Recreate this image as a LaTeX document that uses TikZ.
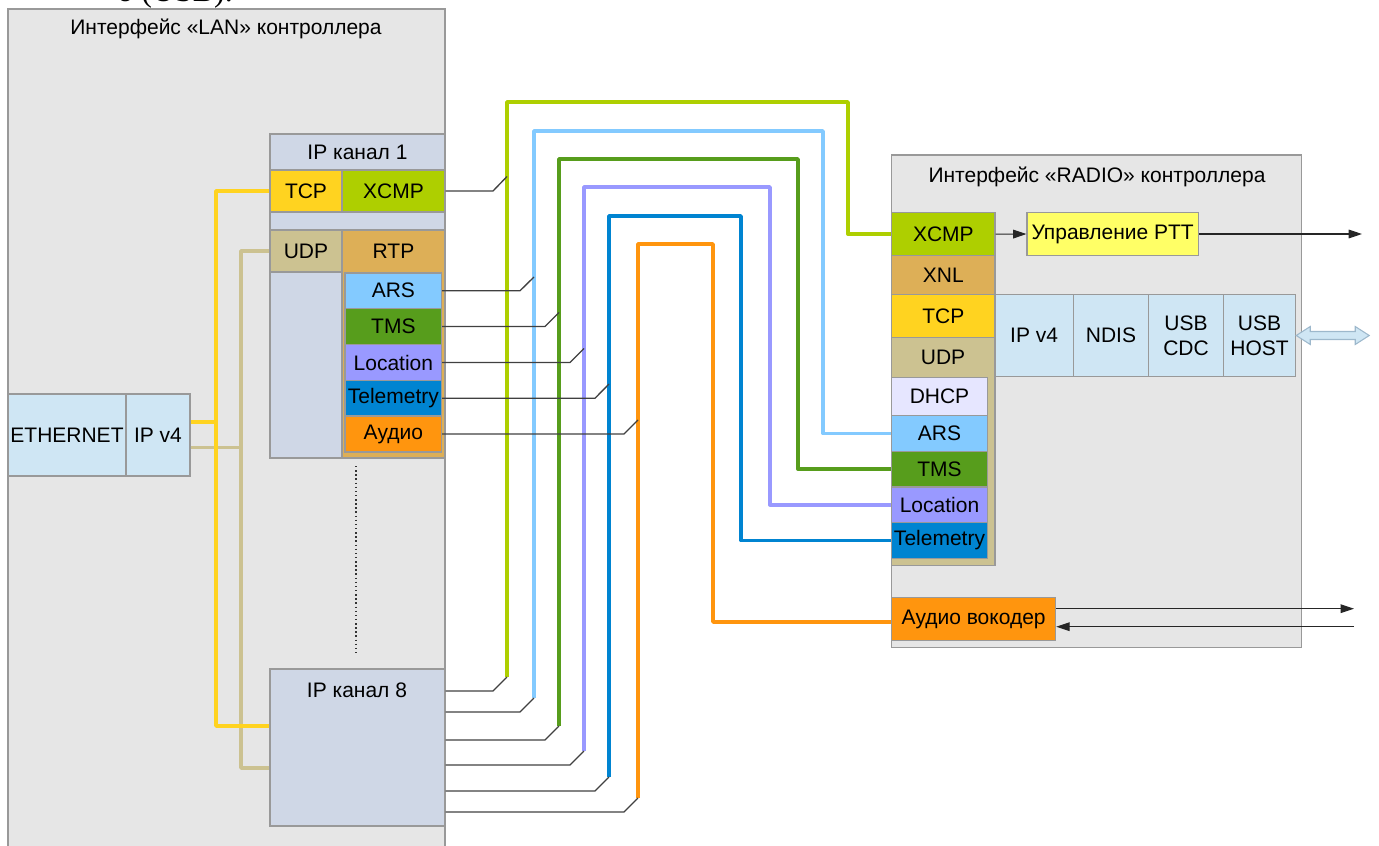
\documentclass[tikz,border=0pt]{standalone}
\usepackage{fontspec}
\setmainfont{Liberation Sans}
\newfontfamily\serifpart{Liberation Serif}
\usetikzlibrary{arrows.meta}
\definecolor{bgg}{HTML}{E6E6E6}
\definecolor{chg}{HTML}{CFD7E6}
\definecolor{lblue}{HTML}{CFE6F4}
\definecolor{cTCP}{HTML}{FFD320}
\definecolor{cXCMP}{HTML}{AECF00}
\definecolor{cUDP}{HTML}{CCC291}
\definecolor{cRTP}{HTML}{DDAF57}
\definecolor{cARS}{HTML}{83CAFF}
\definecolor{cTMS}{HTML}{579D1C}
\definecolor{cLoc}{HTML}{9999FF}
\definecolor{cTel}{HTML}{0084D1}
\definecolor{cAud}{HTML}{FF950E}
\definecolor{cDHCP}{HTML}{E6E6FF}
\definecolor{cPTT}{HTML}{FFFF66}
\definecolor{bord}{HTML}{999999}
\definecolor{arrb}{HTML}{9DB8CC}
\newcommand\fs{\fontsize{15.75}{18.75}\selectfont}
\newcommand\mkbox[7]{\node[box,fill=#6,minimum width={(#4-#2)*0.75pt},minimum height={(#5-#3)*0.75pt}] (#1) at ({(#2+#4)/2},{(#3+#5)/2}) {#7};}
\tikzset{
  box/.style={draw=bord,line width=0.8pt,inner sep=0pt,align=center,font=\fs,text=black},
  lbl/.style={inner sep=0pt,align=center,font=\fs,text=black},
  lnk/.style={line width=2.6pt,line join=round},
  stub/.style={draw=black!75,line width=1pt},
  arr/.style={draw=black!85,line width=0.8pt,-{Triangle[length=10pt,width=6.5pt]}},
}
\begin{document}
\begin{tikzpicture}[x=0.75pt,y=-0.75pt]
\useasboundingbox (0,0) rectangle (1379,846);
% cut-off text at top
\node[anchor=base west,inner sep=0pt,font=\serifpart\fontsize{24}{28}\selectfont] (frag) at (117,2) {о (USB).};
% LAN controller
\mkbox{lan}{8}{9}{445}{870}{bgg}{}
\node[lbl] (lanT) at (226,29) {Интерфейс «LAN» контроллера};
\mkbox{eth}{8}{394}{126}{476}{lblue}{ETHERNET}
\mkbox{ipv}{126}{394}{190}{476}{lblue}{IP v4}
% channel 1
\mkbox{ch1}{270}{134}{445}{458}{chg}{}
\mkbox{ch1T}{270}{134}{445}{170}{chg}{IP канал 1}
\mkbox{c1TCP}{270}{170}{342}{212}{cTCP}{TCP}
\mkbox{c1XCMP}{342}{170}{445}{212}{cXCMP}{XCMP}
\mkbox{c1UDP}{270}{230}{342}{272}{cUDP}{UDP}
\mkbox{c1RTP}{342}{230}{445}{458}{cRTP}{}
\node[lbl] (c1RTPt) at (393.5,251) {RTP};
\mkbox{c1ARS}{345}{273}{441.7}{308.5}{cARS}{ARS}
\mkbox{c1TMS}{345}{308.5}{441.7}{344.5}{cTMS}{TMS}
\mkbox{c1Loc}{345}{344.5}{441.7}{380.5}{cLoc}{Location}
\mkbox{c1Tel}{345}{380.5}{441.7}{416}{cTel}{Telemetry}
\mkbox{c1Aud}{345}{416}{441.7}{452}{cAud}{Аудио}
\draw[black!80,line width=1.1pt,dotted] (356,466) -- (356,653);
% channel 8
\mkbox{ch8}{270}{669}{445}{826}{chg}{}
\node[lbl] (ch8T) at (357,690) {IP канал 8};
% yellow and khaki links
\draw[lnk,cUDP] (ipv.east |- 0,447.5) -- (241,447.5);
\draw[lnk,cUDP] (c1UDP.west) -- (241,251) |- (ch8.west |- 0,768);
\draw[lnk,cTCP] (ipv.east |- 0,422) -- (216,422);
\draw[lnk,cTCP] (c1TCP.west) -- (216,191) |- (ch8.west |- 0,726);
% RADIO controller
\mkbox{rad}{891.7}{155}{1301.7}{647.7}{bgg}{}
\node[lbl] (radT) at (1097,177) {Интерфейс «RADIO» контроллера};
\mkbox{rXCMP}{891.7}{212.7}{995}{255.7}{cXCMP}{XCMP}
\mkbox{rXNL}{891.7}{255.7}{995}{294.3}{cRTP}{XNL}
\mkbox{rTCP}{891.7}{294.3}{995}{337.3}{cTCP}{TCP}
\mkbox{rUDPbg}{891.7}{337.3}{995}{565.7}{cUDP}{}
\node[lbl] (rUDP) at (943,357) {UDP};
\mkbox{rDHCP}{891.7}{377.3}{987.3}{415.7}{cDHCP}{DHCP}
\mkbox{rARS}{891.7}{415.7}{987.3}{451.3}{cARS}{ARS}
\mkbox{rTMS}{891.7}{451.3}{987.3}{487}{cTMS}{TMS}
\mkbox{rLoc}{891.7}{487}{987.3}{522.7}{cLoc}{Location}
\mkbox{rTel}{891.7}{522.7}{987.3}{558.3}{cTel}{Telemetry}
\mkbox{ptt}{1027}{212.7}{1198.3}{255.3}{cPTT}{Управление PTT}
\mkbox{uIP}{995}{294.3}{1073.3}{376.7}{lblue}{IP v4}
\mkbox{uNDIS}{1073.3}{294.3}{1148.7}{376.7}{lblue}{NDIS}
\mkbox{uCDC}{1148.7}{294.3}{1223.3}{376.7}{lblue}{USB\\CDC}
\mkbox{uHOST}{1223.3}{294.3}{1295.7}{376.7}{lblue}{USB\\HOST}
\mkbox{voc}{891.7}{597.7}{1055.7}{640.3}{cAud}{Аудио вокодер}
% arrows on the right
\coordinate (pttout) at (1362,234);
\coordinate (vout) at (1354,608.7);
\coordinate (vin) at (1354,626.7);
\draw[arr] (rXCMP.east) -- (ptt.west);
\draw[arr] (ptt.east) -- (pttout);
\draw[arr] (voc.east |- vout) -- (vout);
\draw[arr] (vin) -- (voc.east |- vin);
\draw[fill=lblue,draw=arrb,line width=0.8pt,line join=miter]
  (uHOST.east) -- ++(14,-9) -- ++(0,5) -- ++(45,0) -- ++(0,-5) -- ++(14,9)
  -- ++(-14,9) -- ++(0,-5) -- ++(-45,0) -- ++(0,5) -- cycle;
% junction points
\coordinate (j1a) at (507,176.5);
\coordinate (j1b) at (534,277);
\coordinate (j1c) at (559,312.5);
\coordinate (j1d) at (584,348.5);
\coordinate (j1e) at (609,384);
\coordinate (j1f) at (638,420);
\coordinate (j8a) at (507,677);
\coordinate (j8b) at (534,698);
\coordinate (j8c) at (559,726);
\coordinate (j8d) at (584,751);
\coordinate (j8e) at (609,777);
\coordinate (j8f) at (638,798);
% coloured links
\draw[lnk,cXCMP] (rXCMP.west) -| (848,102) -| (j8a);
\draw[lnk,cARS] (rARS.west) -| (823,131) -| (j8b);
\draw[lnk,cTMS] (rTMS.west) -| (798,159) -| (j8c);
\draw[lnk,cLoc] (rLoc.west) -| (770,187) -| (j8d);
\draw[lnk,cTel] (rTel.west) -| (741,216) -| (j8e);
\draw[lnk,cAud] (voc.west |- 0,622) -| (713,244) -| (j8f);
% stubs channel 1
\draw[stub] (c1XCMP.east) -- (c1XCMP.east -| 493,0) -- (j1a);
\draw[stub] (c1ARS.east) -- (c1ARS.east -| 520,0) -- (j1b);
\draw[stub] (c1TMS.east) -- (c1TMS.east -| 545,0) -- (j1c);
\draw[stub] (c1Loc.east) -- (c1Loc.east -| 570,0) -- (j1d);
\draw[stub] (c1Tel.east) -- (c1Tel.east -| 595,0) -- (j1e);
\draw[stub] (c1Aud.east) -- (c1Aud.east -| 624,0) -- (j1f);
% stubs channel 8
\draw[stub] (ch8.east |- 0,691) -- (493,691) -- (j8a);
\draw[stub] (ch8.east |- 0,712) -- (520,712) -- (j8b);
\draw[stub] (ch8.east |- 0,740) -- (545,740) -- (j8c);
\draw[stub] (ch8.east |- 0,765) -- (570,765) -- (j8d);
\draw[stub] (ch8.east |- 0,791) -- (595,791) -- (j8e);
\draw[stub] (ch8.east |- 0,812) -- (624,812) -- (j8f);
\end{tikzpicture}
\end{document}
